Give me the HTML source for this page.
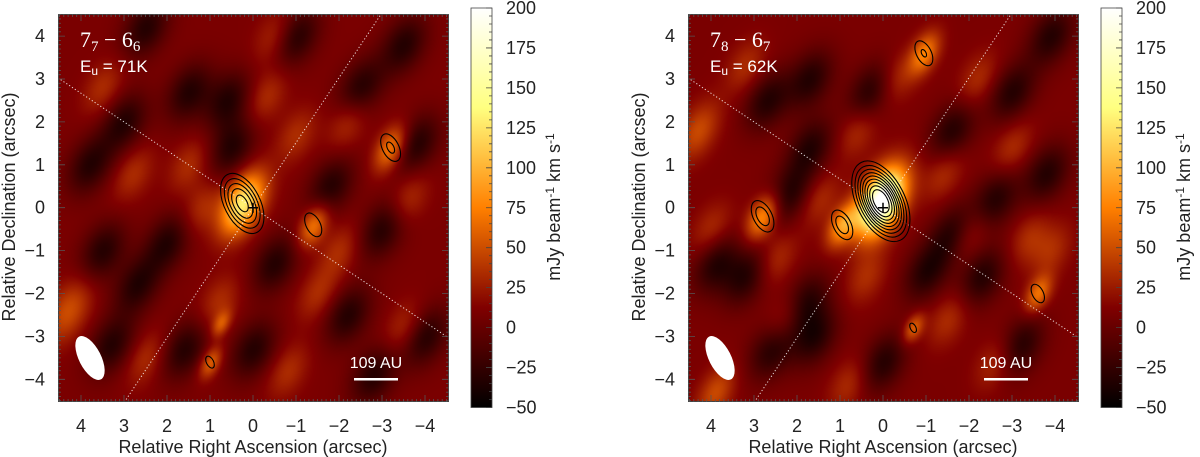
<!DOCTYPE html>
<html><head><meta charset="utf-8">
<style>
body{margin:0;background:#fff;width:1200px;height:457px;overflow:hidden;position:relative;font-family:"Liberation Sans",sans-serif}
canvas{position:absolute}
svg{position:absolute;left:0;top:0}
</style></head>
<body>
<canvas id="map0" width="391" height="388" style="left:58px;top:14px"></canvas>
<canvas id="map1" width="391" height="388" style="left:688px;top:14px"></canvas>
<svg id="ov" width="1200" height="457"></svg>
<script>
// ---- data ----
const xTicks=[4,3,2,1,0,-1,-2,-3,-4];
const yTicks=[4,3,2,1,0,-1,-2,-3,-4];
const cbTicks=[200,175,150,125,100,75,50,25,0,-25,-50];
const contourLevels=[55,72,89,106,123,140,157,174,191];
const panelTitles=["7_7 − 6_6","7_8 − 6_7"];
const panelEu=["71K","62K"];
// sources: [ra, dec, amplitude above background, size factor]
const leftSources=[[0.25,0.1,122,1.15],[-1.4,-0.4,62,0.8],[-3.2,1.4,66,0.85],[1.0,-3.6,52,0.6],[0.75,-2.7,42,0.5],[4.3,-2.4,40,1.2]];
const rightSources=[[0.05,0.15,205,1.25],[2.8,-0.2,74,0.85],[0.95,-0.4,74,0.8],[-0.95,3.6,64,0.8],[-3.6,-2.0,58,0.7],[-0.7,-2.8,50,0.55],[4.3,1.8,38,1.1],[3.9,-4.3,38,1.0]];
const leftDark=[[1.5,2.7],[3.0,2.0],[0.6,2.5],[3.8,1.0],[-2.5,2.8],[-3.0,-0.5],[-3.8,1.5],[2.0,-0.8],[3.5,-1.0],[2.7,-1.8],[0.0,-3.3],[-2.2,-2.5],[-0.5,-1.3],[1.6,-3.3],[-4.0,-3.0],[-1.0,4.0],[2.5,4.2],[-3.5,3.8],[-1.8,0.5],[0.5,1.4],[-2.8,-3.9],[3.3,-3.2]];
const leftBright=[[-0.5,4.0],[-2.2,2.0],[-1.0,1.7],[1.5,1.0],[2.8,0.8],[-2.0,-1.0],[0.8,-2.2],[-1.5,-2.0],[-3.5,-2.8],[3.5,2.8],[2.5,-3.5],[-0.8,-3.8],[-3.6,0.2],[1.2,0.0],[-0.3,2.6]];
const rightDark=[[1.7,3.0],[0.3,2.7],[2.7,2.5],[1.7,1.4],[-1.6,1.8],[-3.0,2.7],[-2.6,0.2],[-3.8,0.8],[3.9,-1.3],[3.2,-1.6],[1.8,-2.2],[1.6,-3.0],[0.0,-3.6],[-2.3,-1.6],[-3.2,-3.2],[-1.6,-0.6],[-3.9,4.0],[2.2,0.3],[-1.0,-1.5],[2.6,-3.3]];
const rightBright=[[3.2,3.3],[0.6,1.8],[-0.3,3.0],[-2.2,3.0],[-1.4,0.8],[-3.0,1.4],[1.5,0.2],[-2.0,-0.6],[-3.4,-0.7],[2.5,-1.2],[0.4,-1.6],[-1.5,-2.6],[2.3,-2.6],[-2.6,-3.6],[0.8,-4.1],[-3.9,-1.0],[4.0,-0.5]];

const NS="http://www.w3.org/2000/svg";
const ov=document.getElementById('ov');
const PW=391,PH=388,X0=58,Y0=14;
const OFFS=[0,630];
const ang=27*Math.PI/180;
function xs(ra){return 253-43*ra-X0;}
function ys(dec){return 207.7-42.9*dec-Y0;}
function afm(v){let t=(v+50)/250;t=Math.max(0,Math.min(1,t));
 const c=x=>Math.round(255*Math.max(0,Math.min(1,x)));return [c(2*t),c(2*t-0.5),c(2*t-1)];}
function gauss(dx,dy,sMaj,sMin){
 const u=dx*Math.cos(ang)+dy*Math.sin(ang);
 const w=-dx*Math.sin(ang)+dy*Math.cos(ang);
 return Math.exp(-0.5*(u*u/(sMin*sMin)+w*w/(sMaj*sMaj)));}
const BASE=10,SMAJ=20,SMIN=11;
function field(srcs,dark,bright,x,y){
 let v=BASE;
 for(const d of dark)v-=42*gauss(x-xs(d[0]),y-ys(d[1]),SMAJ*1.1,SMIN*1.3);
 for(const b of bright)v+=24*gauss(x-xs(b[0]),y-ys(b[1]),SMAJ,SMIN*1.1);
 for(const s of srcs)v+=s[2]*gauss(x-xs(s[0]),y-ys(s[1]),SMAJ*s[3],SMIN*s[3]);
 return v;}
function render(id,srcs,dark,bright){
 const cv=document.getElementById(id),ctx=cv.getContext('2d');
 const im=ctx.createImageData(PW,PH);
 for(let y=0;y<PH;y++)for(let x=0;x<PW;x++){
  const c=afm(field(srcs,dark,bright,x,y));const i=(y*PW+x)*4;
  im.data[i]=c[0];im.data[i+1]=c[1];im.data[i+2]=c[2];im.data[i+3]=255;}
 ctx.putImageData(im,0,0);}
render('map0',leftSources,leftDark,leftBright);
render('map1',rightSources,rightDark,rightBright);

function el(tag,attrs,parent){const e=document.createElementNS(NS,tag);for(const k in attrs)e.setAttribute(k,attrs[k]);(parent||ov).appendChild(e);return e;}
function txt(s,x,y,attrs,parent){const t=el('text',Object.assign({x:x,y:y,'font-family':'Liberation Sans, sans-serif','font-size':18,fill:'#222'},attrs),parent);t.textContent=s;return t;}

const defs=el('defs',{});
const lg=el('linearGradient',{id:'cbg',x1:0,y1:1,x2:0,y2:0},defs);
for(let i=0;i<=20;i++){const v=-50+250*i/20;const c=afm(v);el('stop',{offset:i/20,'stop-color':`rgb(${c})`},lg);}

function panel(p){
 const o=OFFS[p];const srcs=p?rightSources:leftSources;
 const g=el('g',{});
 
 
 const cp=el('clipPath',{id:'clip'+p},defs);el('rect',{x:X0+o,y:Y0,width:PW,height:PH},cp);
 const gi=el('g',{'clip-path':`url(#clip${p})`},g);
 const X=ra=>253-43*ra+o, Y=dec=>207.7-42.9*dec;
 const l1=el('line',{x1:X(5),y1:Y(5*0.667),x2:X(-5),y2:Y(-5*0.667),stroke:'#fff','stroke-width':1,'stroke-dasharray':'1.2 2.2',opacity:0.85},gi);
 
 const l2=el('line',{x1:X(3.3),y1:Y(-5),x2:X(-3.3),y2:Y(5),stroke:'#fff','stroke-width':1,'stroke-dasharray':'1.2 2.2',opacity:0.85},gi);
 
 for(const s of srcs){
  for(const L of contourLevels){
   const r=s[2]/(L-BASE);if(r<=1.02)continue;
   const k=Math.sqrt(2*Math.log(r));
   const e=el('ellipse',{cx:X(s[0]),cy:Y(s[1]),rx:k*SMIN*s[3],ry:k*SMAJ*s[3],fill:'none',stroke:'#000','stroke-width':1.1,transform:`rotate(-27 ${X(s[0])} ${Y(s[1])})`},gi);
   
  }
 }
 const cr=el('path',{d:`M${X(0)-5},${Y(0)}h10M${X(0)},${Y(0)-5}v10`,stroke:'#000','stroke-width':1.5},gi);
 
 const bm=el('ellipse',{cx:90+o,cy:358,rx:11,ry:24,fill:'#fff',transform:`rotate(-27 ${90+o} 358)`},g);
 
 const sb=el('rect',{x:354+o,y:378,width:44,height:2.5,fill:'#fff'},g);
 
 const st=txt('109 AU',376+o,368,{fill:'#fff','text-anchor':'middle','font-size':16},g);
 
 const parts=panelTitles[p].split(' − ');
 const tl=el('text',{x:80+o,y:47,fill:'#fff','font-family':'Liberation Serif, serif','font-size':22},g);
 
 const a=parts[0].split('_'),b=parts[1].split('_');
 tl.innerHTML=`${a[0]}<tspan font-size="15" dy="4">${a[1]}</tspan><tspan dy="-4"> − ${b[0]}</tspan><tspan font-size="15" dy="4">${b[1]}</tspan>`;
 const eu=el('text',{x:80+o,y:72,fill:'#fff','font-family':'Liberation Sans, sans-serif','font-size':17},g);
 
 eu.innerHTML=`E<tspan font-size="12" dy="3">u</tspan><tspan dy="-3"> = ${panelEu[p]}</tspan>`;
 el('rect',{x:X0+o+0.5,y:Y0+0.5,width:PW-1,height:PH-1,fill:'none',stroke:'#444','stroke-width':1},g);
 let d='';
 for(let t=-45;t<=45;t++){const ra=t/10;const px=X(ra);if(px<X0+o||px>X0+o+PW)continue;const len=(t%10===0)?7:3;
  d+=`M${px},${Y0+PH}v${-len}M${px},${Y0}v${len}`;}
 for(let t=-45;t<=45;t++){const dec=t/10;const py=Y(dec);if(py<Y0||py>Y0+PH)continue;const len=(t%10===0)?7:3;
  d+=`M${X0+o},${py}h${len}M${X0+o+PW},${py}h${-len}`;}
 el('path',{d:d,stroke:'#555','stroke-width':0.8,fill:'none'},g);
 for(const t of xTicks){const tt=txt(t<0?'−'+(-t):''+t,X(t),432,{'text-anchor':'middle'},g);
  }
 for(const t of yTicks){const tt=txt(t<0?'−'+(-t):''+t,45+o,Y(t)+6,{'text-anchor':'end'},g);
  }
 const xt=txt('Relative Right Ascension (arcsec)',253+o,453,{'text-anchor':'middle'},g);
 
 const yt=txt('Relative Declination (arcsec)',0,0,{'text-anchor':'middle',transform:`translate(${15+o},207) rotate(-90)`},g);
 
 const cx=471+o,cw=21,ct=8,cb=407.5;
 const cbr=el('rect',{x:cx,y:ct,width:cw,height:cb-ct,fill:'url(#cbg)',stroke:'#444','stroke-width':0.8},g);
 
 const CY=v=>cb-(v+50)/250*(cb-ct);
 let cd='';
 for(let v=-50;v<=200;v+=5){const len=(v%25===0)?6:3;cd+=`M${cx+cw},${CY(v)}h${-len}`;}
 el('path',{d:cd,stroke:'#444','stroke-width':0.8},g);
 for(const v of cbTicks){const tt=txt(v<0?'−'+(-v):''+v,506+o,CY(v)+6,{},g);
  }
 const cl=el('text',{x:0,y:0,'text-anchor':'middle','font-family':'Liberation Sans, sans-serif','font-size':18,fill:'#222',transform:`translate(${560+o},207) rotate(-90)`},g);
 
 cl.innerHTML='mJy beam<tspan font-size="12" dy="-6">-1</tspan><tspan dy="6"> km s</tspan><tspan font-size="12" dy="-6">-1</tspan>';
}
panel(0);panel(1);
</script>
</body></html>
